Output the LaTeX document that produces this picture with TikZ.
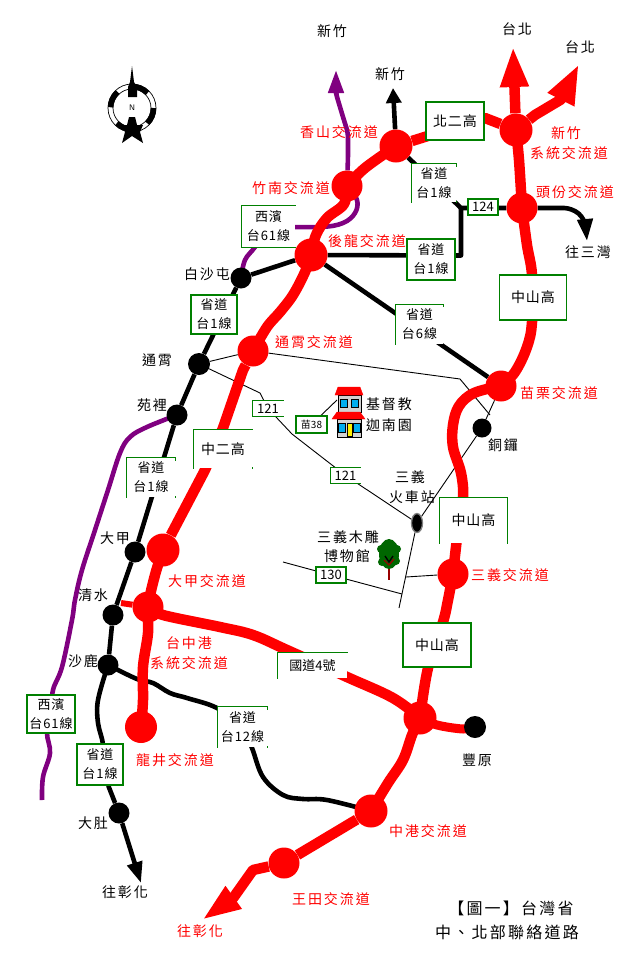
\documentclass[tikz,border=0pt]{standalone}
\usepackage{fontspec}
\usetikzlibrary{arrows.meta,shapes.geometric}
\newfontfamily\cjkw[LetterSpace=14]{Noto Sans CJK TC}
\newfontfamily\cjkm[LetterSpace=7]{Noto Sans CJK TC}
\newfontfamily\cjkn{Noto Sans CJK TC}
\definecolor{rroad}{HTML}{FF0000}
\definecolor{pur}{HTML}{800080}
\definecolor{gbox}{HTML}{008000}
\pgfdeclarelayer{thinlayer}
\pgfdeclarelayer{purlayer}
\pgfdeclarelayer{blklayer}
\pgfdeclarelayer{redlayer}
\pgfsetlayers{thinlayer,purlayer,blklayer,redlayer,main}
\tikzset{
  rj/.style={circle,fill=rroad,inner sep=0pt,minimum size=31pt},
  bj/.style={circle,fill=black,inner sep=0pt,minimum size=21pt},
  redrd/.style={draw=rroad,line width=10.5pt,line join=round},
  blkrd/.style={draw=black,line width=4.6pt,line join=round},
  purrd/.style={draw=pur,line width=4.6pt,line join=round},
  thinrd/.style={draw=black,line width=0.9pt},
  rlab/.style={text=rroad,inner sep=0pt,font=\fontsize{14}{16}\selectfont\cjkw},
  klab/.style={text=black,inner sep=0pt,font=\fontsize{14}{16}\selectfont\cjkw},
  ttl/.style={text=black,inner sep=0pt,font=\fontsize{16}{18}\selectfont\cjkw},
  boxbase/.style={fill=white,inner sep=0pt,align=center,font=\fontsize{13}{19}\selectfont\cjkm},
  gfull/.style={boxbase,draw=gbox,line width=1.3pt},
  gedge/.style={draw=gbox,line width=1.3pt,line cap=rect},
  numbox/.style={fill=white,inner sep=0pt,font=\fontsize{13}{15}\selectfont\cjkn},
  smooth road/.style={smooth,tension=0.6}
}
\newcommand{\edgeTL}[1]{\draw[gedge] (#1.north east) -- (#1.north west) -- (#1.south west);}
\newcommand{\edgeTLB}[1]{\draw[gedge] (#1.north east) -- (#1.north west) -- (#1.south west) -- (#1.south east);}
\newcommand{\tickR}[1]{\draw[gedge] (#1.north east) -- ++(0,3); \draw[gedge] (#1.south east) -- ++(0,-1);}
\begin{document}
\begin{tikzpicture}[x=1pt,y=-1pt]
\useasboundingbox (0,0) rectangle (642,975);
\begin{pgfonlayer}{thinlayer}
\fill[white] (0,0) rectangle (642,975);
\end{pgfonlayer}

% red junctions
\node[rj,minimum size=33pt] (jsys) at (516,130) {};
\node[rj] (jtoufen) at (522,208) {};
\node[rj] (jmiaoli) at (501,386) {};
\node[rj] (jsanyi) at (453,574) {};
\node[rj,minimum size=33pt] (jfeng) at (420,718) {};
\node[rj,minimum size=33pt] (jzhonggang) at (371,811) {};
\node[rj] (jwangtian) at (284,863) {};
\node[rj,minimum size=33pt] (jxiang) at (396,146) {};
\node[rj] (jzhunan) at (347,186) {};
\node[rj,minimum size=33pt] (jhoulong) at (311,255) {};
\node[rj] (jtongxiao) at (253,351) {};
\node[rj,minimum size=33pt] (jdajia) at (163,550) {};
\node[rj] (jtaizhong) at (148,607) {};
\node[rj,minimum size=32pt] (jlongjing) at (141,727) {};

% black junctions
\node[bj] (bbaisha) at (241,278) {};
\node[bj,minimum size=22pt] (btongxiao) at (199,364) {};
\node[bj] (byuanli) at (177,415) {};
\node[bj] (bdajia) at (135,552) {};
\node[bj] (bqingshui) at (113,615) {};
\node[bj] (bshalu) at (108,665) {};
\node[bj] (bdadu) at (119,813) {};
\node[bj,minimum size=19pt] (btongluo) at (482,428) {};
\node[bj,minimum size=22pt] (bfengyuan) at (475,727) {};

% station
\node[ellipse,fill=black,draw=gray,line width=1.3pt,inner sep=0pt,minimum width=11pt,minimum height=19pt] (station) at (417,523) {};

% boxes
\node[gfull,minimum width=58pt,minimum height=38pt,font=\fontsize{14}{16}\selectfont\cjkm] (bxbeier) at (455,121) {北二高};
\node[boxbase,minimum width=44pt,minimum height=38pt] (bxtaia) at (434,183) {省道\\台1線};
\node[gfull,minimum width=48pt,minimum height=41pt] (bxtaib) at (431,259.5) {省道\\台1線};
\node[gfull,numbox,minimum width=30pt,minimum height=16pt] (bxroad) at (483,207) {124};
\node[boxbase,minimum width=53pt,minimum height=41pt] (bxxib) at (268.5,226.5) {西濱\\台61線};
\node[gfull,minimum width=46pt,minimum height=39pt] (bxtaic) at (214,314.5) {省道\\台1線};
\node[gfull,minimum width=67pt,minimum height=45pt,font=\fontsize{14}{16}\selectfont\cjkm] (bxzsa) at (533,297.5) {中山高};
\node[boxbase,minimum width=47pt,minimum height=39pt] (bxtaisix) at (419.5,324.5) {省道\\台6線};
\node[numbox,minimum width=30pt,minimum height=15pt] (bxra) at (268,408.5) {121};
\node[numbox,minimum width=29pt,minimum height=15pt] (bxrb) at (345.5,475.5) {121};
\node[gfull,numbox,minimum width=31pt,minimum height=17pt,font=\fontsize{10}{12}\selectfont\cjkn] (bxmiao) at (311.5,424.5) {苗38};
\node[boxbase,minimum width=58pt,minimum height=38pt,font=\fontsize{14}{16}\selectfont\cjkm] (bxzer) at (223,449) {中二高};
\node[boxbase,minimum width=48pt,minimum height=39pt] (bxtaid) at (151,477.5) {省道\\台1線};
\node[boxbase,minimum width=67pt,minimum height=45pt,font=\fontsize{14}{16}\selectfont\cjkm] (bxzsb) at (473.5,520.5) {中山高};
\node[gfull,numbox,minimum width=30pt,minimum height=16pt] (bxrc) at (331,575) {130};
\node[gfull,minimum width=68pt,minimum height=44pt,font=\fontsize{14}{16}\selectfont\cjkm] (bxzsc) at (437,645) {中山高};
\node[boxbase,minimum width=69pt,minimum height=25pt,font=\fontsize{13}{15}\selectfont\cjkn] (bxguo) at (312.5,665.5) {國道4號};
\node[gfull,minimum width=48pt,minimum height=38pt] (bxxic) at (51,714) {西濱\\台61線};
\node[boxbase,minimum width=49pt,minimum height=40pt] (bxtwelve) at (242.5,727) {省道\\台12線};
\node[gfull,minimum width=46pt,minimum height=41pt] (bxtaie) at (100,764.5) {省道\\台1線};

\edgeTL{bxtaia}\tickR{bxtaia}
\draw[gedge] (bxxib.north east) -- (bxxib.north west) -- (bxxib.south west) -- (bxxib.south east);
\edgeTL{bxtaisix}\draw[gedge] (bxtaisix.north east) -- ++(0,2);
\edgeTLB{bxra}
\edgeTLB{bxrb}
\edgeTL{bxzer}\draw[gedge] (bxzer.south east) -- ++(0,-1);
\edgeTL{bxtaid}\tickR{bxtaid}
\draw[gedge] (bxzsb.south west) -- (bxzsb.north west) -- (bxzsb.north east) -- (bxzsb.south east);
\edgeTL{bxguo}
\edgeTL{bxtwelve}\tickR{bxtwelve}

% free ends of connectors
\coordinate (cbend) at (461,208);
\coordinate (cbendb) at (461,255.5);
\coordinate (cthina) at (490,415);
\coordinate (cthinb) at (283,562);
\coordinate (cthinc) at (402,594);
\coordinate (cthind) at (399,608);
\coordinate (cthine) at (406,577);
\coordinate (cpur) at (42,800);

% thin roads
\begin{pgfonlayer}{thinlayer}
\draw[thinrd] (btongxiao) -- (jtongxiao);
\draw[thinrd] (jtongxiao) -- (460,379) -- (cthina);
\draw[thinrd] (jmiaoli) -- (btongluo);
\draw[thinrd] (btongluo) -- (station);
\draw[thinrd] (station) -- (cthind);
\draw[thinrd] (cthine) -- (jsanyi);
\draw[thinrd] (cthinb) -- (bxrc);
\draw[thinrd] (bxrc) -- (cthinc);
\draw[thinrd] (btongxiao) -- (260,393) -- (bxra);
\draw[thinrd] (bxra) -- (292,434) -- (bxrb);
\draw[thinrd] (bxrb) -- (station);
\coordinate (cchurch) at (337,400);
\draw[thinrd] (bxmiao) -- (cchurch);
\end{pgfonlayer}

% purple roads
\begin{pgfonlayer}{purlayer}
\draw[purrd,rounded corners=5pt,-{Triangle[length=23pt,width=15pt]}] (jzhunan) -- (348,157) -- (348,133) -- (343,117) -- (337,97) -- (336,93) -- (336,70);
\draw[purrd] plot[smooth road] coordinates {(jzhunan) (357,200) (355,213) (343,223) (320,227) (bxxib)};
\draw[purrd] plot[smooth road] coordinates {(bxxib) (255,247) (245,260) (bbaisha)};
\draw[purrd] plot[smooth road] coordinates {(byuanli) (147,427) (130,437) (120,453) (108,490) (95,530) (82,570) (75,600) (72,620) (62,667) (53,690) (bxxic)};
\draw[purrd] plot[smooth road] coordinates {(bxxic) (47,733) (50,753) (43,777) (cpur)};
\end{pgfonlayer}

% black roads
\begin{pgfonlayer}{blklayer}
\draw[blkrd] (bbaisha) -- (btongxiao);
\draw[blkrd] (btongxiao) -- (byuanli) -- (bdajia) -- (bqingshui) -- (bshalu);
\draw[blkrd] plot[smooth road] coordinates {(bshalu) (98,700) (98,723) (103,745) (bxtaie)};
\draw[blkrd] (bxtaie) -- (bdadu);
\draw[blkrd,-{Triangle[length=21pt,width=15pt]}] (bdadu) -- (134.5,862.5) -- (141,883);
\draw[blkrd] plot[smooth road] coordinates {(bshalu) (137,679) (153,683) (170,693) (187,698) (217,708) (bxtwelve)};
\draw[blkrd] plot[smooth road] coordinates {(bxtwelve) (252,748) (263,777) (283,795) (303,799) (327,800) (jzhonggang)};
\draw[blkrd] (bbaisha) -- (jhoulong);
\draw[blkrd] (jhoulong) -- (cbendb) -- (cbend);
\draw[blkrd] (jxiang) -- (cbend) -- (jtoufen);
\draw[blkrd,rounded corners=8pt,-{Triangle[length=22pt,width=15pt]}] (jtoufen) -- (572,208) -- (585,219) -- (587,241);
\draw[blkrd,-{Triangle[length=15pt,width=15pt]}] (jxiang) -- (393,88);
\draw[blkrd] (jhoulong) -- (jmiaoli);
\end{pgfonlayer}

% red roads
\begin{pgfonlayer}{redlayer}
\draw[redrd,-{Triangle[length=41pt,width=26pt]}] (jsys) -- (513,46);
\draw[redrd,-{Triangle[length=40pt,width=27pt]}] (jsys) -- (535,115) -- (561,99.5) -- (579,64);
\draw[redrd] (jxiang) -- (485,118) -- (jsys);
\draw[redrd] plot[smooth road] coordinates {(jsys) (519,160) (jtoufen)};
\draw[redrd] plot[smooth road] coordinates {(jtoufen) (527,245) (532,275) (532,322) (527,347) (515,372) (jmiaoli)};
\draw[redrd] plot[smooth road] coordinates {(jmiaoli) (474,393) (459,406) (453,425) (453,447) (461,473) (463,497) (458,530) (jsanyi)};
\draw[redrd] plot[smooth road] coordinates {(jsanyi) (448,600) (443,622) (428,668) (jfeng)};
\draw[redrd] plot[smooth road] coordinates {(jfeng) (412,735) (403,760) (388,783) (jzhonggang)};
\draw[redrd] (jzhonggang) -- (jwangtian);
\draw[redrd,-{Triangle[length=39pt,width=25pt]}] (jwangtian) -- (253,870) -- (233.5,897.5) -- (202,920);
\draw[redrd,line width=9pt] plot[smooth road] coordinates {(jfeng) (437,725) (463,729) (bfengyuan)};
\draw[redrd] plot[smooth road] coordinates {(jtaizhong) (163,615) (220,627) (253,635) (287,650) (347,677) (393,698) (jfeng)};
\draw[redrd,line width=6pt] (jtaizhong) -- (121,603);
\draw[redrd] plot[smooth road] coordinates {(jdajia) (155,575) (jtaizhong) (148,633) (143,667) (143,700) (jlongjing)};
\draw[redrd] (jdajia) -- (205,470) -- (223,428) -- (243,370) -- (jtongxiao);
\draw[redrd] plot[smooth road] coordinates {(jtongxiao) (267,327) (280,312) (293,295) (305,272) (jhoulong)};
\draw[redrd] plot[smooth road] coordinates {(jhoulong) (316,235) (327,218) (344,204) (jzhunan)};
\draw[redrd] plot[smooth road] coordinates {(jzhunan) (365,168) (jxiang)};
\end{pgfonlayer}

% compass
\draw[line width=0.7pt] (132,108) circle[radius=24];
\draw[line width=0.7pt] (132,108) circle[radius=19];
\foreach \a/\b in {44/95,132/178,-45/0,225/250}{
  \draw[line width=5.5pt] ({132+21.5*cos(\a)},{108-21.5*sin(\a)}) arc[start angle=-\a,end angle=-\b,radius=21.5];
}
\fill (132,66) -- (134,82) -- (137,87) -- (137,97) -- (128,97) -- (128,87) -- (130,82) -- cycle;
\fill (129,117) -- (135,117) -- (137,125) -- (143,125) -- (140,132) -- (143,143) -- (132,136) -- (122,143) -- (125,132) -- (121,125) -- (127,125) -- cycle;
\node[inner sep=0pt,font=\fontsize{8}{9}\selectfont\sffamily] (compassn) at (132,108) {N};

% church
\fill[gray!35] (338,395) rectangle (361,412);
\fill[gray!35] (337,419) rectangle (361,437);
\draw[line width=0.6pt] (338,395) rectangle (361,412);
\draw[line width=0.6pt] (337,419) rectangle (361,437);
\draw[fill=rroad,draw=rroad] (338,387) -- (360,387) -- (363,395) -- (335,395) -- cycle;
\draw[fill=rroad,draw=rroad] (337,412) -- (360,412) -- (365,419) -- (332,419) -- cycle;
\draw[fill=cyan,line width=0.6pt] (340,399) rectangle (347,407);
\draw[fill=cyan,line width=0.6pt] (351,399) rectangle (358,407);
\draw[fill=cyan,line width=0.6pt] (338,423) rectangle (345,432);
\draw[fill=cyan,line width=0.6pt] (353,423) rectangle (360,432);
\draw[fill=yellow,line width=0.6pt] (347,423) rectangle (352,436);

% tree
\draw[line width=1.8pt,draw=red!60!black] (389,561) -- (389,580);
\fill[gbox!80!black] (389,554) ellipse[x radius=10,y radius=15];
\fill[gbox!80!black] (381,549) circle[radius=4];
\fill[gbox!80!black] (397,549) circle[radius=4];
\fill[gbox!80!black] (382,562) circle[radius=4];
\fill[gbox!80!black] (396,561) circle[radius=4];
\draw[line width=1.3pt,draw=black] (385,556) -- (389,562) -- (393,556);
\draw[line width=1.3pt,draw=red!60!black] (384,560) -- (389,565) -- (394,559);

% black labels
\node[klab] (tnewa) at (332,31) {新竹};
\node[klab] (tnewb) at (390,74) {新竹};
\node[klab] (ttpa) at (517,29) {台北};
\node[klab] (ttpb) at (580,47) {台北};
\node[klab] (tsanwan) at (588,252) {往三灣};
\node[klab] (tbaisha) at (207,274) {白沙屯};
\node[klab] (ttongx) at (157,360) {通霄};
\node[klab] (tyuan) at (152,405) {苑裡};
\node[klab] (tchurcha) at (389,404) {基督教};
\node[klab] (tchurchb) at (389,425) {迦南園};
\node[klab] (ttongl) at (503,445) {銅鑼};
\node[klab] (tsanyia) at (410,477) {三義};
\node[klab] (tsanyib) at (412,497) {火車站};
\node[klab] (tmusa) at (348,537) {三義木雕};
\node[klab] (tmusb) at (347,556) {博物館};
\node[klab] (tdajia) at (115,538) {大甲};
\node[klab] (tqing) at (93,595) {清水};
\node[klab] (tshalu) at (83,661) {沙鹿};
\node[klab] (tfeng) at (477,760) {豐原};
\node[klab] (tdadu) at (93,823) {大肚};
\node[klab] (tchanga) at (125,892) {往彰化};
\node[ttl] (ttitlea) at (511,908) {【圖一】台灣省};
\node[ttl] (ttitleb) at (507,932) {中、北部聯絡道路};

% red labels
\node[rlab] (lxiang) at (339,132) {香山交流道};
\node[rlab] (lnew) at (566,133) {新竹};
\node[rlab] (lsys) at (569,153) {系統交流道};
\node[rlab] (ltou) at (575,192) {頭份交流道};
\node[rlab] (lzhu) at (291,188) {竹南交流道};
\node[rlab] (lhou) at (367,241) {後龍交流道};
\node[rlab] (ltong) at (314,342) {通霄交流道};
\node[rlab] (lmiao) at (559,393) {苗栗交流道};
\node[rlab] (lsan) at (510,575) {三義交流道};
\node[rlab] (lda) at (207,581) {大甲交流道};
\node[rlab] (ltaia) at (189,643) {台中港};
\node[rlab] (ltaib) at (189,663) {系統交流道};
\node[rlab] (llong) at (175,760) {龍井交流道};
\node[rlab] (lzhong) at (428,831) {中港交流道};
\node[rlab] (lwang) at (331,899) {王田交流道};
\node[rlab] (lchang) at (200,931) {往彰化};
\end{tikzpicture}
\end{document}
